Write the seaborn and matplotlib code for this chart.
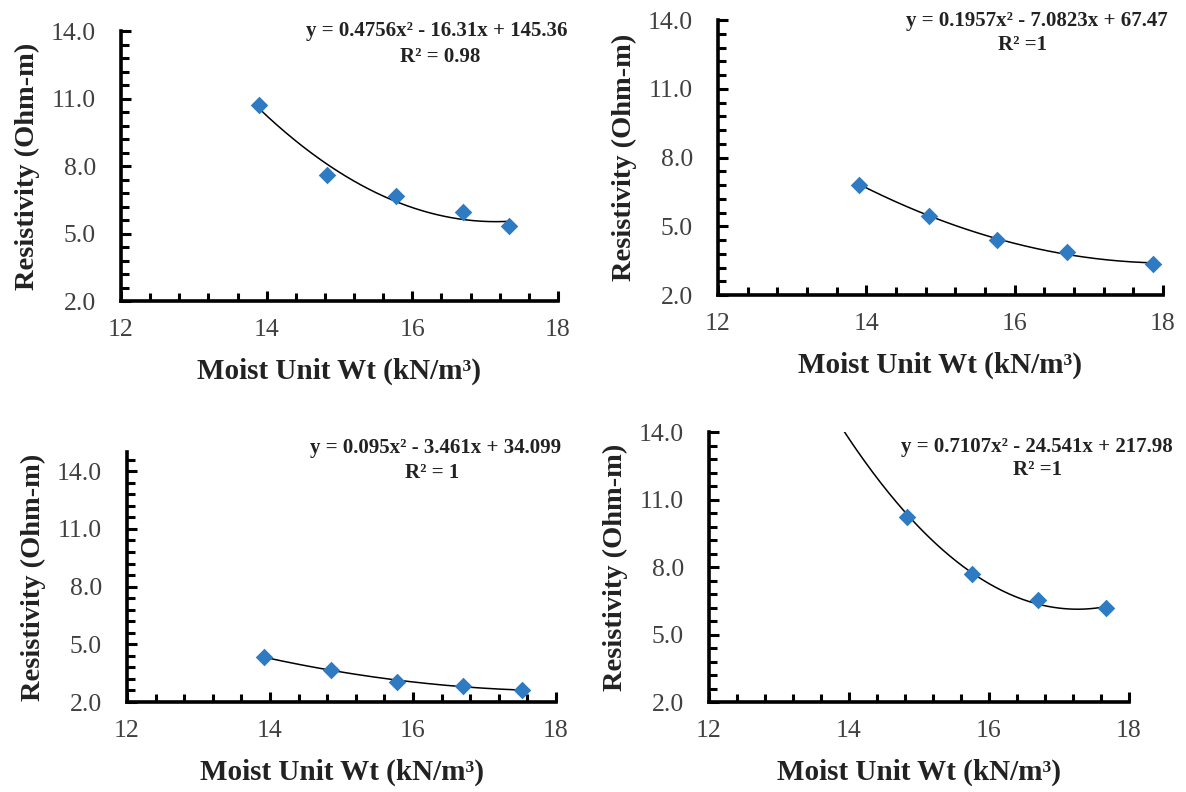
import numpy as np
import pandas as pd
import matplotlib
matplotlib.use("Agg")
import matplotlib.pyplot as plt
import seaborn as sns
from matplotlib.ticker import MultipleLocator, FixedLocator, FormatStrFormatter

# ---------------- data ----------------
x1 = [13.90, 14.83, 15.77, 16.69, 17.33]
y1 = [10.72, 7.60, 6.65, 5.94, 5.35]
x2 = [13.90, 14.84, 15.76, 16.71, 17.87]
y2 = [6.82, 5.46, 4.38, 3.86, 3.37]
x3 = [13.91, 14.86, 15.78, 16.70, 17.53]
y3 = [4.32, 3.69, 3.05, 2.82, 2.62]
x4 = [14.83, 15.76, 16.70, 17.67]
y4 = [10.22, 7.67, 6.52, 6.19]

coef1 = [0.4756, -16.31, 145.36]
coef2 = [0.1957, -7.0823, 67.47]
coef3 = [0.095, -3.461, 34.099]
coef4 = [0.7107, -24.541, 217.98]

eq_labels = ["y = 0.4756x² - 16.31x + 145.36",
             "y = 0.1957x² - 7.0823x + 67.47",
             "y = 0.095x² - 3.461x + 34.099",
             "y = 0.7107x² - 24.541x + 217.98"]
r2_labels = ["R² = 0.98", "R² =1", "R² = 1", "R² =1"]
backcast = [0.0, 0.0, 0.0, 0.95]
ymax = [14, 14, 15, 14]

xlabel = "Moist Unit Wt (kN/m³)"
ylabel = "Resistivity (Ohm-m)"

# ---------------- style ----------------
sns.set_style("ticks")
plt.rcParams["font.family"] = ["Liberation Serif", "DejaVu Serif"]

fig = plt.figure(figsize=(11.86, 7.92), dpi=100)

rects = [
    [0.1020, 0.6199, 0.3685, 0.3409],
    [0.6054, 0.6275, 0.3752, 0.3472],
    [0.1071, 0.1136, 0.3617, 0.3157],
    [0.5978, 0.1136, 0.3541, 0.3409],
]
eq_pos = [(0.368, 0.961), (0.874, 0.974), (0.367, 0.434), (0.874, 0.436)]
r2_pos = [(0.371, 0.928), (0.862, 0.943), (0.364, 0.403), (0.875, 0.407)]

xs = [x1, x2, x3, x4]
ys = [y1, y2, y3, y4]
coefs = [coef1, coef2, coef3, coef4]

blue = "#2E7BC4"

for i in range(4):
    ax = fig.add_axes(rects[i])
    df = pd.DataFrame({"x": xs[i], "y": ys[i]})
    lo = min(xs[i]) - backcast[i]
    hi = max(xs[i])
    gx = np.linspace(lo, hi, 200)
    gy = np.polyval(coefs[i], gx)
    trend = pd.DataFrame({"x": gx, "y": gy})
    sns.lineplot(data=trend, x="x", y="y", ax=ax, color="black", lw=1.1,
                 sort=False, estimator=None, zorder=2)
    sns.scatterplot(data=df, x="x", y="y", ax=ax, marker="D", s=80,
                    color=blue, edgecolor=blue, linewidth=0, zorder=3)
    ax.set_xlim(12, 18)
    ax.set_ylim(2, ymax[i])
    ax.xaxis.set_major_locator(FixedLocator([12, 14, 16, 18]))
    ax.xaxis.set_minor_locator(MultipleLocator(0.4))
    ax.yaxis.set_major_locator(FixedLocator([2, 5, 8, 11, 14]))
    ax.yaxis.set_minor_locator(FixedLocator(list(np.arange(2, ymax[i] + 0.01, 0.6))))
    ax.yaxis.set_major_formatter(FormatStrFormatter("%.1f"))
    for s in ["top", "right"]:
        ax.spines[s].set_visible(False)
    for s in ["left", "bottom"]:
        ax.spines[s].set_linewidth(2.6)
        ax.spines[s].set_color("black")
    ax.tick_params(axis="both", which="major", direction="in", length=7, width=2.2,
                   labelsize=18.5, labelcolor="#404040", color="black")
    ax.tick_params(axis="x", which="major", pad=13)
    ax.tick_params(axis="y", which="major", pad=18)
    ax.tick_params(axis="both", which="minor", direction="in", length=6, width=2.2,
                   color="black")
    ax.set_xlabel(xlabel, fontsize=21, fontweight="bold", color="#222222", labelpad=12)
    ax.set_ylabel(ylabel, fontsize=20.5, fontweight="bold", color="#222222", labelpad=8)
    ax.set_facecolor("white")
    fig.text(eq_pos[i][0], eq_pos[i][1], eq_labels[i], ha="center", va="center",
             fontsize=15, fontweight="bold", color="#222222")
    fig.text(r2_pos[i][0], r2_pos[i][1], r2_labels[i], ha="center", va="center",
             fontsize=15, fontweight="bold", color="#222222")

fig.savefig("out.png", dpi=100, facecolor="white")
